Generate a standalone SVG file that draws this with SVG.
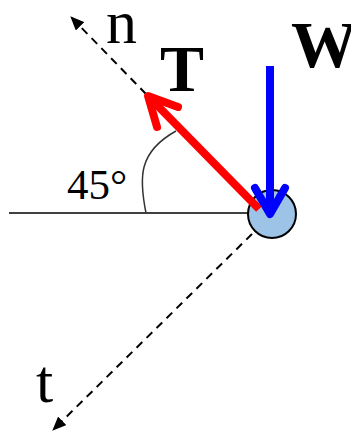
<svg xmlns="http://www.w3.org/2000/svg" width="351" height="431" viewBox="0 0 351 431">
<style>
.lbl{font-family:"Liberation Serif","Times New Roman",serif;fill:#000}
.dash{stroke:#000;stroke-width:2;stroke-dasharray:8 6;fill:none}
</style>
<defs>
<marker id="ah" markerUnits="userSpaceOnUse" markerWidth="14" markerHeight="12" refX="13" refY="6" orient="auto">
<path d="M0,0 L14,6 L0,12 Z" fill="#000"/>
</marker>
</defs>
<g id="connectors">
<line x1="9" y1="213" x2="271" y2="213" stroke="#000" stroke-width="1.5"/>
<path d="M146,213 C139,178 138,152 176,131" fill="none" stroke="#333" stroke-width="1.5"/>
<line class="dash" x1="146" y1="94" x2="71" y2="17" marker-end="url(#ah)"/>
<line class="dash" x1="252" y1="234" x2="53" y2="430" marker-end="url(#ah)"/>
</g>
<g id="ball">
<circle cx="272" cy="214" r="24" fill="#9DC3E6" stroke="#000" stroke-width="2"/>
</g>
<g id="T-force">
<line x1="259" y1="209" x2="150" y2="98" stroke="#FF0000" stroke-width="8"/>
<polyline points="178,107 148,96 157,127" fill="none" stroke="#FF0000" stroke-width="8" stroke-linecap="round" stroke-linejoin="round"/>
</g>
<g id="W-force">
<line x1="270" y1="66" x2="270" y2="212" stroke="#0000FF" stroke-width="8"/>
<polyline points="255,188 270,214 285,188" fill="none" stroke="#0000FF" stroke-width="8" stroke-linecap="round" stroke-linejoin="round"/>
</g>
<g id="labels">
<text class="lbl" x="106" y="43" font-size="62">n</text>
<text class="lbl" x="36" y="402" font-size="62">t</text>
<text class="lbl" x="160" y="91" font-size="66" font-weight="bold">T</text>
<text class="lbl" x="291" y="67" font-size="66" font-weight="bold">W</text>
<text class="lbl" x="67" y="199" font-size="43">45°</text>
</g>
</svg>
